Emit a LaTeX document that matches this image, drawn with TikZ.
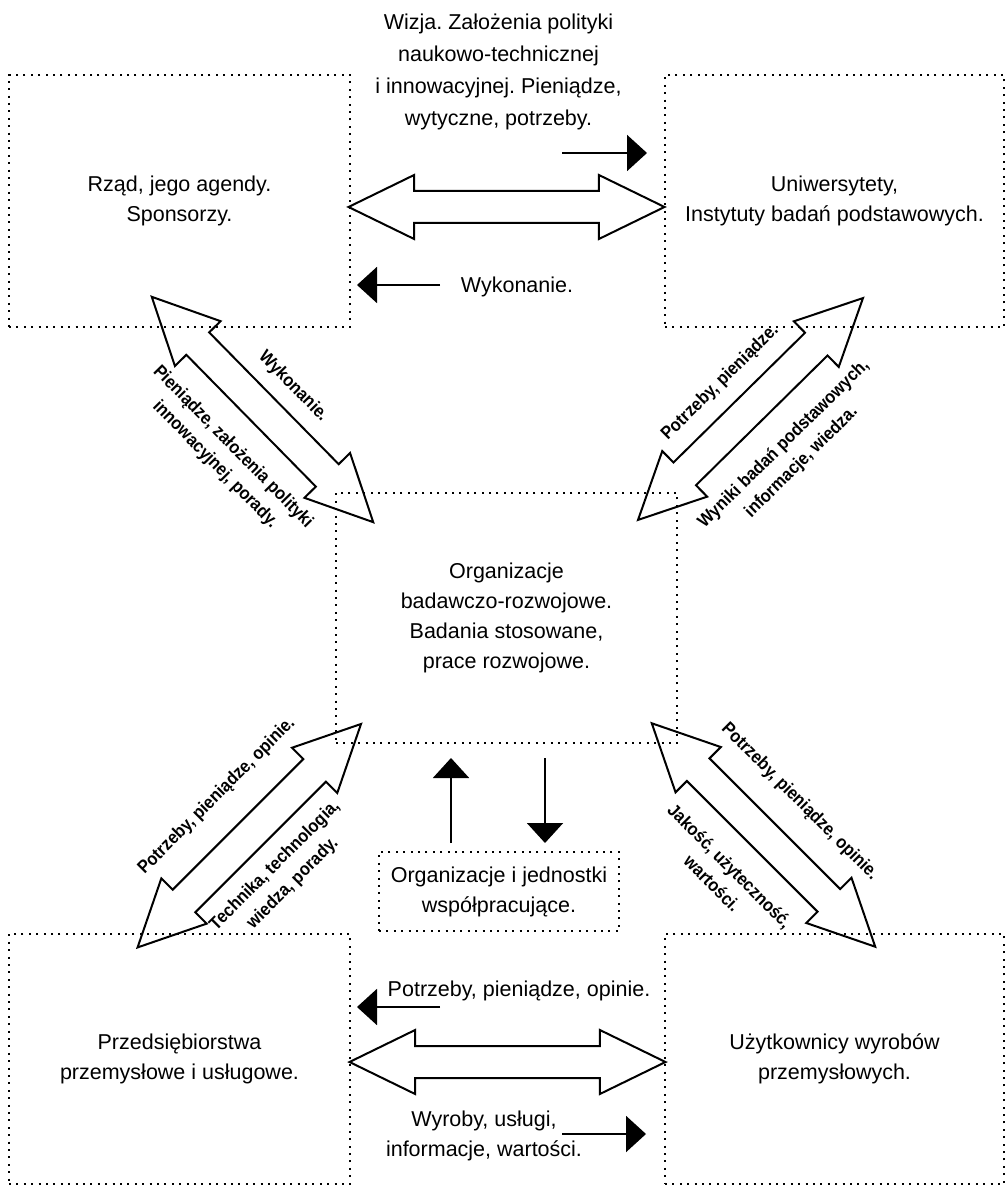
\documentclass[tikz,border=0pt]{standalone}
\usepackage{fontspec}
\setmainfont{Liberation Sans}
\frenchspacing
\usepackage{tikz}
\usetikzlibrary{arrows.meta, shapes.arrows}

\begin{document}
\begin{tikzpicture}[x=0.5pt, y=0.5pt,
			box/.style={rectangle, draw, line width=1pt, dash pattern=on 1pt off 2.7pt,
				font=\fontsize{10.75}{15}\selectfont, align=center, inner sep=0pt},
			txt/.style={font=\fontsize{10.75}{15}\selectfont, align=center, inner sep=0pt},
			dbl/.style={double arrow, draw, line width=1pt, inner sep=0pt, inner ysep=7.5pt,
				minimum height=158pt, double arrow head extend=8pt, double arrow tip angle=52, transform shape},
			diag/.style={font=\fontsize{9}{12.5}\selectfont\bfseries, align=center, inner sep=0pt,
				transform shape, xscale=0.91},
			flow/.style={line width=1pt, -{Triangle[length=10pt, width=18pt]}}]
			
			\useasboundingbox (0,0) rectangle (1006,-1186);
			
			\node[box, minimum width=170.5pt, minimum height=126pt] (gov) at (179.5,-201) {Rząd, jego agendy.\\Sponsorzy.};
			\node[box, minimum width=169.5pt, minimum height=126pt] (uni) at (834.5,-201) {Uniwersytety,\\Instytuty badań podstawowych.};
			\node[box, minimum width=170.5pt, minimum height=125pt] (rd) at (506.5,-618) {Organizacje\\badawczo-rozwojowe.\\Badania stosowane,\\prace rozwojowe.};
			\node[box, minimum width=120pt, minimum height=39.5pt] (coop) at (499,-891.5) {Organizacje i jednostki\\współpracujące.};
			\node[box, minimum width=170.5pt, minimum height=125pt] (ent) at (179.5,-1059) {Przedsiębiorstwa\\przemysłowe i usługowe.};
			\node[box, minimum width=169.5pt, minimum height=125pt] (usr) at (834.5,-1059) {Użytkownicy wyrobów\\przemysłowych.};
			
			\node[txt, font=\fontsize{10.75}{16}\selectfont] (wizja) at (498.5,-72) {Wizja. Założenia polityki\\naukowo-technicznej\\i innowacyjnej. Pieniądze,\\wytyczne, potrzeby.};
			\node[txt] (wyk) at (517,-287) {Wykonanie.};
			\node[txt] (pot) at (519,-991) {Potrzeby, pieniądze, opinie.};
			\node[txt] (wyr) at (484,-1136) {Wyroby, usługi,\\informacje, wartości.};
			
			\node[dbl] (aGovUni) at (506.5,-207) {};
			\node[dbl] (aEntUsr) at (507.5,-1062) {};
			
			\begin{scope}[shift={(262.5,-409.5)}, rotate=-45.5]
				\node[dbl] (aGovRd) at (0,0) {};
				\node[diag] (lGovRdA) at (5,38) {Wykonanie.};
				\node[diag] (lGovRdB) at (6,-60) {Pieniądze, założenia polityki\\innowacyjnej, porady.};
			\end{scope}
			
			\begin{scope}[shift={(750.5,-409)}, rotate=44.6]
				\node[dbl] (aUniRd) at (0,0) {};
				\node[diag] (lUniRdA) at (-3,40) {Potrzeby, pieniądze.};
				\node[diag] (lUniRdB) at (-1,-61) {Wyniki badań podstawowych,\\informacje, wiedza.};
			\end{scope}
			
			\begin{scope}[shift={(249.3,-835.7)}, rotate=45]
				\node[dbl] (aEntRd) at (0,0) {};
				\node[diag] (lEntRdA) at (5,51) {Potrzeby, pieniądze, opinie.};
				\node[diag] (lEntRdB) at (-3,-52) {Technika, technologia,\\wiedza, porady.};
			\end{scope}
			
			\begin{scope}[shift={(763.5,-835)}, rotate=-45]
				\node[dbl] (aUsrRd) at (0,0) {};
				\node[diag] (lUsrRdA) at (2,49) {Potrzeby, pieniądze, opinie.};
				\node[diag] (lUsrRdB) at (-2,-58) {Jakość, użyteczność,\\wartości.};
			\end{scope}
			
			\coordinate (wizjaA) at (562,-153);
			\coordinate (wizjaB) at (647,-153);
			\coordinate (wykA) at (440,-285);
			\coordinate (wykB) at (357,-285);
			\coordinate (upA) at (451,-843);
			\coordinate (upB) at (451,-758);
			\coordinate (dnA) at (545,-758);
			\coordinate (dnB) at (545,-843);
			\coordinate (potA) at (440,-1007);
			\coordinate (potB) at (357,-1007);
			\coordinate (wyrA) at (562,-1134);
			\coordinate (wyrB) at (646,-1134);
			
			\draw[flow] (wizjaA) -- (wizjaB);
			\draw[flow] (wykA) -- (wykB);
			\draw[flow] (upA) -- (upB);
			\draw[flow] (dnA) -- (dnB);
			\draw[flow] (potA) -- (potB);
			\draw[flow] (wyrA) -- (wyrB);
		\end{tikzpicture}
\end{document}
